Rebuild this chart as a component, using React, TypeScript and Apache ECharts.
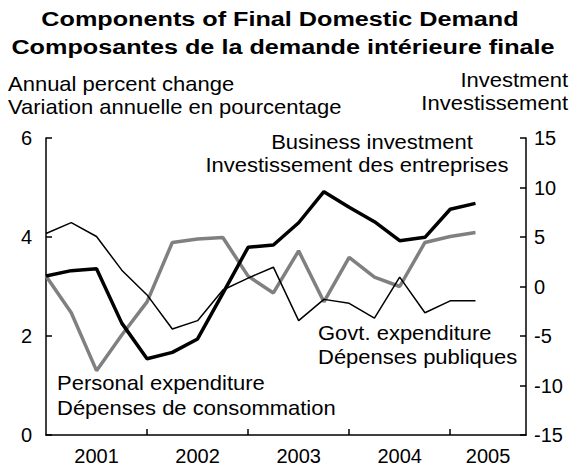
import React, { useEffect, useRef } from "react";
import * as echarts from "echarts";

const quarters = [
  "2001Q1", "2001Q2", "2001Q3", "2001Q4",
  "2002Q1", "2002Q2", "2002Q3", "2002Q4",
  "2003Q1", "2003Q2", "2003Q3", "2003Q4",
  "2004Q1", "2004Q2", "2004Q3", "2004Q4",
  "2005Q1", "2005Q2",
];
const govtExpenditure = [4.07, 4.29, 4.01, 3.33, 2.83, 2.14, 2.31, 2.93, 3.17, 3.39, 2.31, 2.74, 2.66, 2.36, 3.19, 2.47, 2.71, 2.71];
const personalExpenditure = [3.21, 2.47, 1.3, 2.02, 2.69, 3.89, 3.96, 3.99, 3.21, 2.87, 3.72, 2.69, 3.59, 3.19, 3.0, 3.89, 4.01, 4.09];
const businessInvestment = [1.06, 1.6, 1.8, -3.7, -7.3, -6.65, -5.3, -0.7, 3.96, 4.19, 6.44, 9.58, 8.0, 6.55, 4.63, 4.97, 7.8, 8.4];
const yearLabels = ["2001", "2002", "2003", "2004", "2005"];
const yearLabelPositions = [2, 6, 10, 14, 17.5];
const yearTickPositions = [4, 8, 12, 16];

const FONT = "'Liberation Sans', Arial, Helvetica, sans-serif";

export default function App() {
  const ref = useRef<HTMLDivElement>(null);
  useEffect(() => {
    if (!ref.current) return;
    const chart = echarts.init(ref.current, null, { renderer: "svg" });
    const toPairs = (arr: number[]) => arr.map((v, i) => [i, v]);
    const txt = (text: string, x: number, y: number, align: string, bold = false) => ({
      type: "text",
      x,
      y,
      scaleX: bold ? 1.2 : 1.1,
      style: {
        text,
        fill: "#000",
        font: `${bold ? "bold 21px" : "20px"} ${FONT}`,
        align,
        verticalAlign: "middle",
      },
    });
    chart.setOption({
      animation: false,
      backgroundColor: "#fff",
      grid: { left: 46, right: 50, top: 138, bottom: 31, containLabel: false },
      xAxis: {
        type: "value",
        min: 0,
        max: 19,
        splitLine: { show: false },
        axisLine: { show: true, lineStyle: { color: "#000", width: 1.5 } },
        axisTick: { show: true, inside: true, length: 6, customValues: yearTickPositions, lineStyle: { color: "#000", width: 1.5 } },
        axisLabel: {
          show: true,
          customValues: yearLabelPositions,
          formatter: (v: number) => {
            const idx = yearLabelPositions.indexOf(v);
            return idx >= 0 ? yearLabels[idx] : "";
          },
          color: "#000",
          fontSize: 20,
          fontFamily: FONT,
          margin: 11,
        },
      },
      yAxis: [
        {
          type: "value",
          min: 0,
          max: 6,
          interval: 2,
          splitLine: { show: false },
          axisLine: { show: true, lineStyle: { color: "#000", width: 1.5 } },
          axisTick: { show: true, inside: true, length: 6, lineStyle: { color: "#000", width: 1.5 } },
          axisLabel: { color: "#000", fontSize: 20, fontFamily: FONT, margin: 14 },
        },
        {
          type: "value",
          min: -15,
          max: 15,
          interval: 5,
          position: "right",
          splitLine: { show: false },
          axisLine: { show: true, lineStyle: { color: "#000", width: 1.5 } },
          axisTick: { show: true, inside: true, length: 6, lineStyle: { color: "#000", width: 1.5 } },
          axisLabel: { color: "#000", fontSize: 20, fontFamily: FONT, margin: 8 },
        },
      ],
      series: [
        {
          name: "Govt. expenditure",
          type: "line",
          yAxisIndex: 0,
          data: toPairs(govtExpenditure),
          showSymbol: false,
          lineStyle: { color: "#000", width: 1.5 },
          z: 3,
        },
        {
          name: "Personal expenditure",
          type: "line",
          yAxisIndex: 0,
          data: toPairs(personalExpenditure),
          showSymbol: false,
          lineStyle: { color: "#808080", width: 3.5 },
          z: 2,
        },
        {
          name: "Business investment",
          type: "line",
          yAxisIndex: 1,
          data: toPairs(businessInvestment),
          showSymbol: false,
          lineStyle: { color: "#000", width: 3.5 },
          z: 4,
        },
      ],
      graphic: [
        txt("Components of Final Domestic Demand", 280, 19, "center", true),
        txt("Composantes de la demande intérieure finale", 283, 47, "center", true),
        txt("Annual percent change", 8, 84, "left"),
        txt("Variation annuelle en pourcentage", 8, 107, "left"),
        txt("Investment", 568, 80, "right"),
        txt("Investissement", 568, 103, "right"),
        txt("Business investment", 372, 142, "center"),
        txt("Investissement des entreprises", 357, 165, "center"),
        txt("Govt. expenditure", 318, 333, "left"),
        txt("Dépenses publiques", 318, 357, "left"),
        txt("Personal expenditure", 57, 383, "left"),
        txt("Dépenses de consommation", 57, 408, "left"),
      ],
    });
    return () => chart.dispose();
  }, []);
  return <div ref={ref} style={{ width: 576, height: 466, position: "absolute", left: 0, top: 0 }} />;
}
